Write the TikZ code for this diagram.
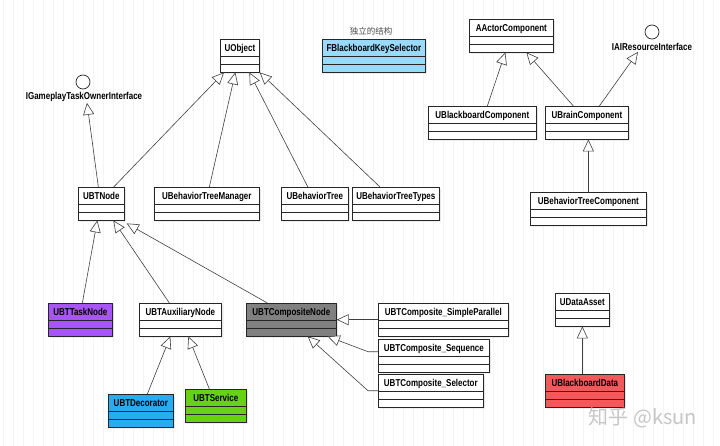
\documentclass[tikz,border=0pt]{standalone}
\usepackage{fontspec}
\usetikzlibrary{shapes.multipart,arrows.meta,shadows}
\newfontfamily\umlfont[FakeStretch=0.8]{Liberation Sans}
\newfontfamily\cjkfont{Noto Sans CJK SC}
\definecolor{keyblue}{RGB}{153,217,249}
\definecolor{taskpurple}{RGB}{168,85,247}
\definecolor{compgray}{RGB}{128,128,128}
\definecolor{decoblue}{RGB}{41,171,239}
\definecolor{servgreen}{RGB}{102,210,20}
\definecolor{datared}{RGB}{241,90,90}
% title compartment of box width #1 (pt), then two empty compartments
\newcommand{\umltitle}[2]{\makebox[\dimexpr#1pt-6pt\relax][c]{\rule[-2.5pt]{0pt}{13pt}#2}\nodepart{two}\nodepart{three}}

\begin{document}
\begin{tikzpicture}[x=1pt, y=-1pt,
  umlclass/.style={rectangle split, rectangle split parts=3, anchor=north west,
    draw=black!85, line width=0.7pt, fill=white, inner xsep=3pt, inner ysep=1.5pt,
    rectangle split empty part height=3pt, rectangle split empty part depth=0pt,
    font=\umlfont\bfseries\fontsize{10}{12}\selectfont,
    drop shadow={shadow xshift=1.5pt, shadow yshift=-1.5pt, opacity=0.2}},
  iface/.style={circle, draw=black!85, line width=0.7pt, fill=white, minimum size=14pt, inner sep=0pt},
  ifacelabel/.style={inner sep=1pt, font=\umlfont\bfseries\fontsize{10}{12}\selectfont},
  inherit/.style={draw=black!75, line width=0.6pt, -{Triangle[length=12pt, width=11pt, fill=white]}},
  ]
  \useasboundingbox (0,0) rectangle (720,446);
  \draw[gray!9, line width=0.5pt, step=10, shift={(3,3)}] (-3,-3) grid (717,443);
  % top row
  \node[umlclass] (uobj) at (220,39) {\umltitle{39}{UObject}};
  \node[font=\cjkfont\fontsize{8.5}{10}\selectfont, text=gray!60!black] (keylabel) at (371,31) {独立的结构};
  \node[umlclass, fill=keyblue] (keysel) at (322,39) {\umltitle{103}{FBlackboardKeySelector}};
  \node[umlclass] (actorcomp) at (469,19) {\umltitle{84}{AActorComponent}};
  \node[iface] (airi) at (652,32) {};
  \node[ifacelabel] (airilabel) at (652,47) {IAIResourceInterface};
  \node[iface] (gtoi) at (83,82) {};
  \node[ifacelabel] (gtoilabel) at (84,97) {IGameplayTaskOwnerInterface};
  % components
  \node[umlclass] (bbcomp) at (428,106) {\umltitle{108}{UBlackboardComponent}};
  \node[umlclass] (braincomp) at (545,106) {\umltitle{83}{UBrainComponent}};
  \node[umlclass] (btcomp) at (530,192) {\umltitle{116}{UBehaviorTreeComponent}};
  % second row
  \node[umlclass] (btnode) at (78,187) {\umltitle{46}{UBTNode}};
  \node[umlclass] (btmgr) at (154,187) {\umltitle{105}{UBehaviorTreeManager}};
  \node[umlclass] (btree) at (281,187) {\umltitle{67}{UBehaviorTree}};
  \node[umlclass] (bttypes) at (352,187) {\umltitle{87}{UBehaviorTreeTypes}};
  % node kinds
  \node[umlclass, fill=taskpurple] (tasknode) at (48,303) {\umltitle{64}{UBTTaskNode}};
  \node[umlclass] (auxnode) at (139,303) {\umltitle{82}{UBTAuxiliaryNode}};
  \node[umlclass, fill=compgray] (compnode) at (246,303) {\umltitle{90}{UBTCompositeNode}};
  \node[umlclass] (cpar) at (378,303) {\umltitle{130}{UBTComposite\_SimpleParallel}};
  \node[umlclass] (cseq) at (378,339) {\umltitle{111}{UBTComposite\_Sequence}};
  \node[umlclass] (csel) at (378,374) {\umltitle{105}{UBTComposite\_Selector}};
  \node[umlclass, fill=decoblue] (decor) at (108,394) {\umltitle{65}{UBTDecorator}};
  \node[umlclass, fill=servgreen] (service) at (185,389) {\umltitle{61}{UBTService}};
  % data
  \node[umlclass] (dataasset) at (555,293) {\umltitle{54}{UDataAsset}};
  \node[umlclass, fill=datared] (bbdata) at (545,374) {\umltitle{79}{UBlackboardData}};
  % inheritance
  \draw[inherit] ([xshift=-3pt]btnode.north) -- ([xshift=3pt]gtoilabel.south);
  \draw[inherit] ([xshift=-11pt]btnode.north east) -- ([xshift=4pt]uobj.south west);
  \draw[inherit] ([xshift=2.5pt]btmgr.north) -- ([xshift=-4.5pt]uobj.south);
  \draw[inherit] ([xshift=-7pt]btree.north) -- ([xshift=9.5pt]uobj.south);
  \draw[inherit] ([xshift=28pt]bttypes.north west) -- (uobj.south east);
  \draw[inherit] ([xshift=5pt]bbcomp.north) -- ([xshift=-6pt]actorcomp.south);
  \draw[inherit] ([xshift=-13.5pt]braincomp.north) -- ([xshift=15pt]actorcomp.south);
  \draw[inherit] ([xshift=12.5pt]braincomp.north) -- ([xshift=-14pt]airilabel.south);
  \draw[inherit] (btcomp.north) -- (btcomp.north |- braincomp.south);
  \draw[inherit] ([xshift=2pt]tasknode.north) -- ([xshift=-4pt]btnode.south);
  \draw[inherit] ([xshift=-11pt]auxnode.north) -- ([xshift=12pt]btnode.south);
  \draw[inherit] ([xshift=-24pt]compnode.north) -- ([xshift=2pt, yshift=-3pt]btnode.south east);
  \draw[inherit] ([xshift=6.5pt]decor.north) -- ([xshift=-10pt]auxnode.south);
  \draw[inherit] ([xshift=-6.5pt]service.north) -- ([xshift=8pt]auxnode.south);
  \draw[inherit] (cpar.west) -- (compnode.east);
  \draw[inherit] ([yshift=4pt]cseq.west) -- ++(-10,0) -- ([xshift=-9pt]compnode.south east);
  \draw[inherit] (csel.west) -- ++(-10,0) -- ([xshift=-29pt]compnode.south east);
  \draw[inherit] (bbdata.north -| dataasset.south) -- (dataasset.south);
  % watermark
  \node[font=\cjkfont\fontsize{20}{24}\selectfont, text=gray!45] (mark) at (643,418) {知乎 @ksun};
\end{tikzpicture}
\end{document}
